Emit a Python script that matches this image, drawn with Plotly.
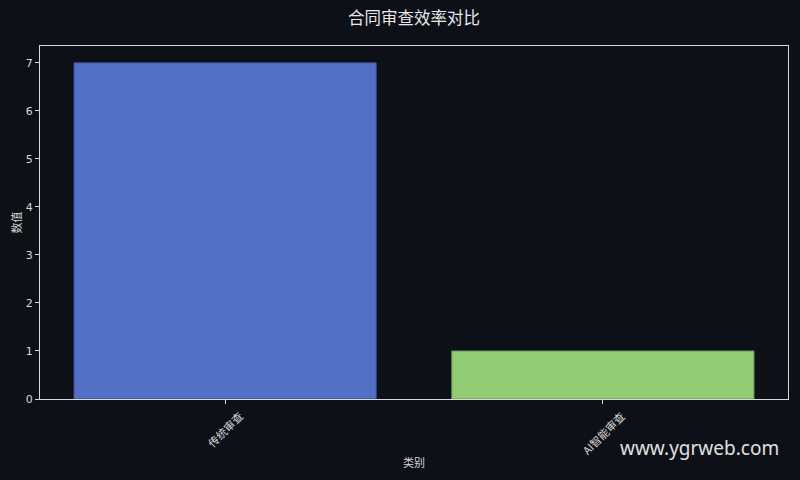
import plotly.graph_objects as go

categories = ["传统审查", "AI智能审查"]
values = [7, 1]
colors = ["#5470c6", "#91cc75"]
edge_colors = ["#3a4d8a", "#65905a"]

BG = "#0d1017"
FG = "#d8d8d8"
FONT = "Noto Sans CJK SC, DejaVu Sans, sans-serif"

fig = go.Figure()
fig.add_trace(go.Bar(
    x=list(range(len(categories))), y=values, width=0.8,
    marker=dict(color=colors, line=dict(color=edge_colors, width=1)),
    showlegend=False,
))

fig.update_layout(
    width=800, height=480,
    paper_bgcolor=BG, plot_bgcolor=BG,
    margin=dict(l=40, r=12, t=46, b=81),
    font=dict(family=FONT, color=FG, size=11),
    title=dict(text="合同审查效率对比", x=0.5175, xanchor="center", y=0.961, yanchor="middle",
               font=dict(size=16.5, color="#e8e8e8")),
)
fig.update_xaxes(
    range=[-0.49, 1.49], tickmode="array", tickvals=list(range(len(categories))),
    showticklabels=False, ticks="outside", ticklen=4, tickcolor=FG,
    showgrid=False, zeroline=False, automargin=False,
    showline=True, linecolor=FG, linewidth=1, mirror=True,
)
fig.update_yaxes(
    range=[0, 7.35], tickmode="array", tickvals=list(range(8)),
    ticks="outside", ticklen=4, tickcolor=FG,
    showgrid=False, zeroline=False, automargin=False,
    showline=True, linecolor=FG, linewidth=1, mirror=True,
    tickfont=dict(size=11, family="DejaVu Sans, sans-serif"),
)
for i, c in enumerate(categories):
    fig.add_annotation(
        text=c, x=i, xref="x", y=0, yref="y", yshift=-6,
        xanchor="center", yanchor="top", textangle=-45, showarrow=False,
        font=dict(size=11, color=FG),
    )
fig.add_annotation(
    text="类别", xref="paper", yref="paper", x=0.5, y=-0.178,
    xanchor="center", yanchor="middle", showarrow=False, font=dict(size=11, color=FG),
)
fig.add_annotation(
    text="数值", xref="paper", yref="paper", x=-0.04, y=0.5, xshift=5,
    xanchor="center", yanchor="middle", textangle=-90, showarrow=False,
    font=dict(size=11, color=FG),
)
fig.add_annotation(
    text="www.ygrweb.com", xref="paper", yref="paper",
    x=0.99, y=-0.14, xanchor="right", yanchor="middle",
    showarrow=False, font=dict(size=19, color="#e0e0e0", family="Noto Sans, DejaVu Sans, sans-serif"),
)
fig.write_html("out.html", config={"displayModeBar": False},
               post_script="document.body.style.margin='0';")
